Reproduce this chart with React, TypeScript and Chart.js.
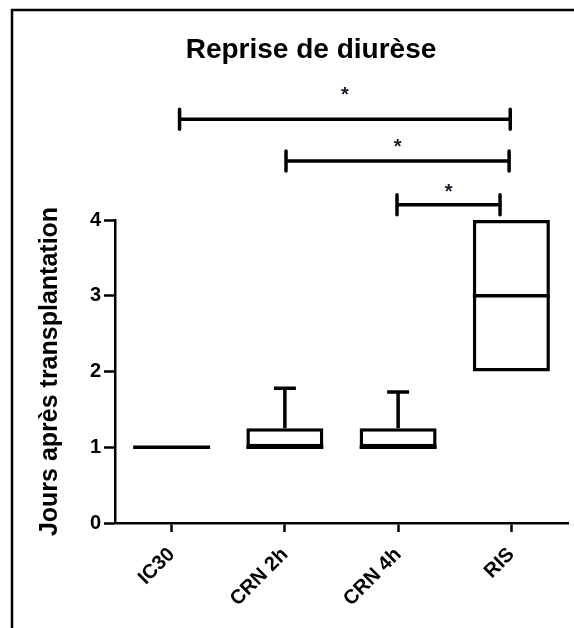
import React, { useEffect, useRef } from 'react';
import { Chart, registerables } from 'chart.js';

Chart.register(...registerables);

// ---- data ----
const categories = ['IC30', 'CRN 2h', 'CRN 4h', 'RIS'];
const minValues = [1, 1, 1, 2];
const q1Values = [1, 1, 1, 2];
const medianValues = [1, 1, 1, 3];
const q3Values = [1, 1.25, 1.25, 4];
const maxValues = [1, 1.78, 1.73, 4];
const yTickValues = [0, 1, 2, 3, 4];

// significance brackets (category index units, y in data units)
const bracketFrom = [0.07, 1.01, 1.99];
const bracketTo = [2.99, 2.98, 2.9];
const bracketLevel = [5.33, 4.78, 4.2];
const starLevel = [5.73, 5.04, 4.45];
const starLabels = ['*', '*', '*'];

const titleText = 'Reprise de diurèse';
const yAxisTitle = 'Jours après transplantation';

const FONT = '"Liberation Sans", Arial, Helvetica, sans-serif';

const boxPlugin = {
  id: 'boxExtras',
  beforeDraw(chart: any) {
    const { ctx, width, height } = chart;
    ctx.save();
    ctx.fillStyle = '#ffffff';
    ctx.fillRect(0, 0, width, height);
    // frame
    ctx.strokeStyle = '#000';
    ctx.lineWidth = 2.5;
    ctx.beginPath();
    ctx.moveTo(12, height + 10);
    ctx.lineTo(12, 10);
    ctx.lineTo(width + 10, 10);
    ctx.stroke();
    ctx.restore();
  },
  afterDraw(chart: any) {
    const { ctx } = chart;
    const xs = chart.scales.x;
    const ys = chart.scales.y;
    const meta = chart.getDatasetMeta(0);
    ctx.save();
    ctx.strokeStyle = '#000';
    ctx.lineWidth = 3.5;
    ctx.lineCap = 'butt';
    categories.forEach((_, i) => {
      const el = meta.data[i];
      const cx = el.x;
      const half = el.width / 2;
      // median
      const my = ys.getPixelForValue(medianValues[i]);
      ctx.beginPath();
      ctx.moveTo(cx - half, my);
      ctx.lineTo(cx + half, my);
      ctx.stroke();
      const capHalf = 11;
      // upper whisker
      if (maxValues[i] > q3Values[i]) {
        const top = ys.getPixelForValue(maxValues[i]);
        const q3 = ys.getPixelForValue(q3Values[i]);
        ctx.beginPath();
        ctx.moveTo(cx, q3);
        ctx.lineTo(cx, top);
        ctx.moveTo(cx - capHalf, top);
        ctx.lineTo(cx + capHalf, top);
        ctx.stroke();
      }
      // lower whisker
      if (minValues[i] < q1Values[i]) {
        const bot = ys.getPixelForValue(minValues[i]);
        const q1 = ys.getPixelForValue(q1Values[i]);
        ctx.beginPath();
        ctx.moveTo(cx, q1);
        ctx.lineTo(cx, bot);
        ctx.moveTo(cx - capHalf, bot);
        ctx.lineTo(cx + capHalf, bot);
        ctx.stroke();
      }
    });

    // brackets
    ctx.lineCap = 'round';
    bracketFrom.forEach((from, i) => {
      const x1 = xs.getPixelForValue(from);
      const x2 = xs.getPixelForValue(bracketTo[i]);
      const y = ys.getPixelForValue(bracketLevel[i]);
      ctx.beginPath();
      ctx.moveTo(x1, y);
      ctx.lineTo(x2, y);
      ctx.moveTo(x1, y - 10);
      ctx.lineTo(x1, y + 10);
      ctx.moveTo(x2, y - 10);
      ctx.lineTo(x2, y + 10);
      ctx.stroke();
      const sy = ys.getPixelForValue(starLevel[i]);
      ctx.fillStyle = '#1a1a2a';
      ctx.font = `bold 20px ${FONT}`;
      ctx.textAlign = 'center';
      ctx.textBaseline = 'alphabetic';
      ctx.fillText(starLabels[i], (x1 + x2) / 2, sy + 12);
    });

    // title
    ctx.fillStyle = '#000';
    ctx.font = `bold 28px ${FONT}`;
    ctx.textAlign = 'center';
    ctx.textBaseline = 'alphabetic';
    ctx.fillText(titleText, 311, 58);
    ctx.restore();
  },
};

export default function App() {
  const ref = useRef<HTMLCanvasElement | null>(null);
  useEffect(() => {
    if (!ref.current) return;
    const chart = new Chart(ref.current, {
      type: 'bar',
      data: {
        labels: categories,
        datasets: [
          {
            label: 'box',
            data: categories.map((_, i) => [q1Values[i], q3Values[i]]) as any,
            backgroundColor: '#ffffff',
            borderColor: '#000000',
            borderWidth: 3.5,
            borderSkipped: false,
            barPercentage: 0.68,
            categoryPercentage: 1,
          },
        ],
      },
      options: {
        responsive: false,
        animation: false,
        devicePixelRatio: 1,
        layout: { padding: { left: 0, top: 220, right: 6, bottom: 0 } },
        plugins: {
          legend: { display: false },
          title: { display: false },
          tooltip: { enabled: false },
        },
        scales: {
          x: {
            type: 'category',
            offset: true,
            grid: {
              offset: false,
              drawOnChartArea: false,
              drawTicks: true,
              tickLength: 9,
              tickWidth: 2.5,
              tickColor: '#000',
              color: '#000',
            },
            border: { display: true, color: '#000', width: 2.5 },
            ticks: {
              color: '#000',
              font: { family: FONT, size: 20, weight: 'bold' },
              maxRotation: 45,
              minRotation: 45,
              padding: 11,
            },
            afterFit: (s: any) => {
              s.height = 105;
            },
          },
          y: {
            min: 0,
            max: 4,
            afterBuildTicks: (s: any) => {
              s.ticks = yTickValues.map((v) => ({ value: v }));
            },
            grid: {
              drawOnChartArea: false,
              drawTicks: true,
              tickLength: 11,
              tickWidth: 2.5,
              tickColor: '#000',
              color: '#000',
            },
            border: { display: true, color: '#000', width: 2.5 },
            ticks: {
              color: '#000',
              font: { family: FONT, size: 20, weight: 'bold' },
              padding: 3,
            },
            title: {
              display: true,
              text: yAxisTitle,
              color: '#000',
              font: { family: FONT, size: 25, weight: 'bold' },
              padding: { top: 35, bottom: 0 },
            },
            afterFit: (s: any) => {
              s.width = 115;
            },
          },
        },
      },
      plugins: [boxPlugin],
    });
    return () => chart.destroy();
  }, []);

  return (
    <div style={{ position: 'absolute', left: 0, top: 0, width: 574, height: 628, overflow: 'hidden', background: '#fff' }}>
      <canvas ref={ref} width={574} height={628} style={{ display: 'block' }} />
    </div>
  );
}
